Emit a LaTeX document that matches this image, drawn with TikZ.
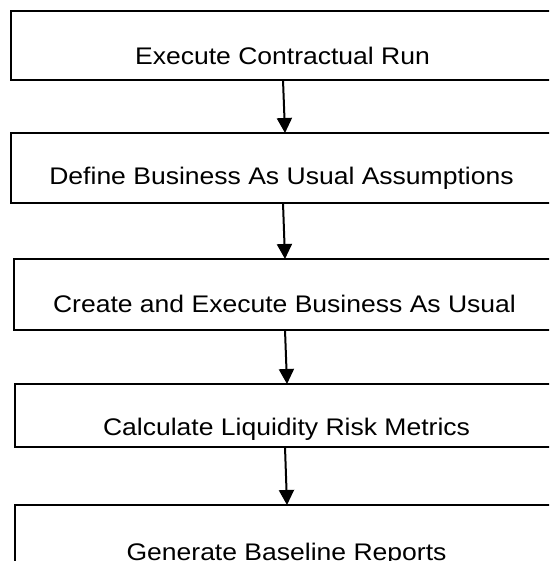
\documentclass[tikz,border=0pt]{standalone}
\usepackage{fontspec}
\setmainfont{Liberation Sans}
\usetikzlibrary{arrows.meta,calc}
\tikzset{
  box/.style={draw=black, line width=2pt, rectangle, inner sep=0pt, outer sep=0pt, anchor=north west},
  lbl/.style={anchor=base, inner sep=0pt, font=\fontsize{24}{28}\selectfont},
  arr/.style={line width=2pt, -{Triangle[length=15pt,width=15pt]}, shorten >=0pt}
}
\newcommand{\wide}[1]{\scalebox{1.105}[1]{#1}}
\begin{document}
\begin{tikzpicture}[x=1pt,y=-1pt]
\useasboundingbox (0,0) rectangle (549,561);
\clip (0,0) rectangle (549,561);
\fill[white] (0,0) rectangle (549,561);
\node[box, minimum width=560pt, minimum height=69pt] (b1) at (10.5,11) {};
\node[box, minimum width=560pt, minimum height=70pt] (b2) at (10.5,133) {};
\node[box, minimum width=560pt, minimum height=71pt] (b3) at (13.5,259) {};
\node[box, minimum width=560pt, minimum height=63pt] (b4) at (15,384) {};
\node[box, minimum width=560pt, minimum height=95pt] (b5) at (15,505) {};
\node[lbl] (t1) at (282.5,65) {\wide{Execute Contractual Run}};
\node[lbl] (t2) at (281.5,185) {\wide{Define Business As Usual Assumptions}};
\node[lbl] (t3) at (284.5,312.5) {\wide{Create and Execute Business As Usual}};
\begin{scope}
\clip (0,380) rectangle (549,439);
\node[lbl] (t4) at (286.5,435) {\wide{Calculate Liquidity Risk Metrics}};
\end{scope}
\node[lbl] (t5) at (286.5,560) {\wide{Generate Baseline Reports}};
\draw[arr] ($(b1.south west)+(272.5,0)$) -- ($(b2.north west)+(274.5,0)$);
\draw[arr] ($(b2.south west)+(272.5,0)$) -- ($(b3.north west)+(271.5,0)$);
\draw[arr] ($(b3.south west)+(271.5,0)$) -- ($(b4.north west)+(272,0)$);
\draw[arr] ($(b4.south west)+(270,0)$) -- ($(b5.north west)+(272,0)$);
\end{tikzpicture}
\end{document}
